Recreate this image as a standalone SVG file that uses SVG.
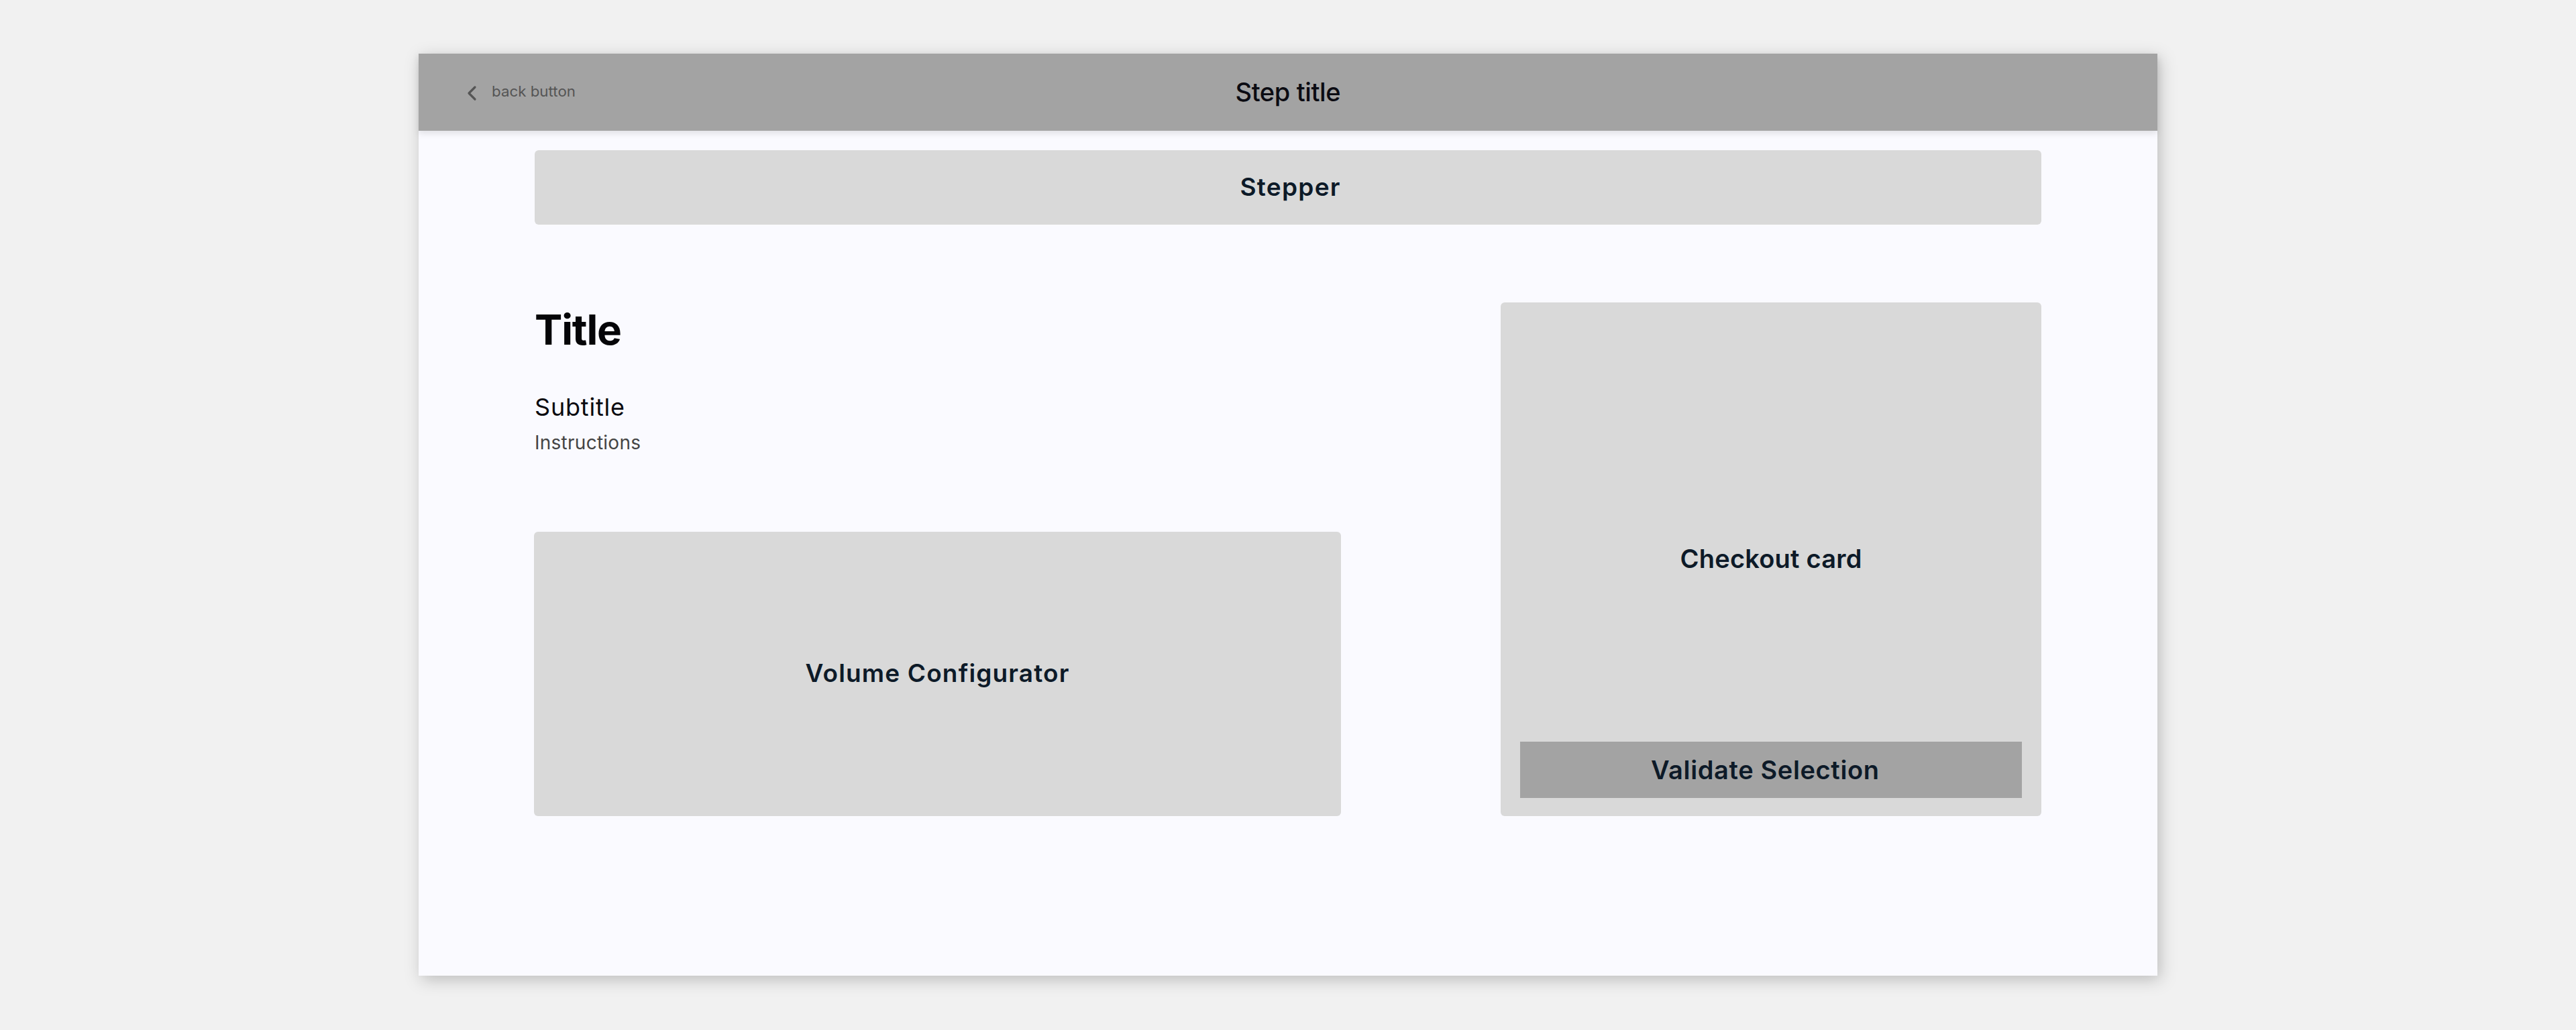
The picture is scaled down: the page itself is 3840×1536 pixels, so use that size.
<svg xmlns="http://www.w3.org/2000/svg" width="3840" height="1536" viewBox="0 0 3840 1536">
<defs>
<filter id="frameShadow" x="-5%" y="-5%" width="110%" height="115%">
<feDropShadow dx="4" dy="6" stdDeviation="12" flood-color="#000" flood-opacity="0.22"/>
</filter>
<filter id="headShadow" x="-2%" y="-20%" width="104%" height="160%">
<feDropShadow dx="0" dy="4" stdDeviation="5" flood-color="#000" flood-opacity="0.10"/>
</filter>
<style>
.box{fill:#d9d9d9}
.btn{fill:#a3a3a3}
.lbl{font-family:Inter,"Liberation Sans",sans-serif;font-weight:600;fill:#0d1a28;text-anchor:middle}
.body{font-family:Inter,"Liberation Sans",sans-serif}
</style>
</defs>
<rect width="3840" height="1536" fill="#f1f1f1"/>
<g id="frame">
<rect x="624" y="80" width="2592" height="1375" fill="#fafaff" filter="url(#frameShadow)"/>
</g>
<g id="header">
<rect x="624" y="80" width="2592" height="115" fill="#a3a3a3" filter="url(#headShadow)"/>
<polyline points="708,130 699,139 708,148" fill="none" stroke="#555" stroke-width="3.2" stroke-linecap="round" stroke-linejoin="round"/>
<text x="733" y="144" class="body" font-size="22" fill="#555" textLength="125" lengthAdjust="spacingAndGlyphs">back button</text>
<text x="1920" y="151" class="body" font-size="38" font-weight="500" fill="#0b0b12" text-anchor="middle" textLength="157" lengthAdjust="spacing">Step title</text>
</g>
<g id="stepper">
<rect class="box" x="797" y="224" width="2246" height="111" rx="6"/>
<text class="lbl" x="1923" y="292" font-size="37" textLength="149" lengthAdjust="spacing">Stepper</text>
</g>
<g id="title-block">
<text x="797" y="514" class="body" font-size="62" font-weight="700" fill="#050508" textLength="130" lengthAdjust="spacing">Title</text>
<text x="797" y="620" class="body" font-size="36" fill="#0a0a10" textLength="134" lengthAdjust="spacing">Subtitle</text>
<text x="797" y="670" class="body" font-size="28" fill="#444" textLength="158" lengthAdjust="spacing">Instructions</text>
</g>
<g id="volume-configurator">
<rect class="box" x="796" y="793" width="1203" height="424" rx="6"/>
<text class="lbl" x="1397" y="1017" font-size="37" textLength="393" lengthAdjust="spacing">Volume Configurator</text>
</g>
<g id="checkout-card">
<rect class="box" x="2237" y="451" width="806" height="766" rx="6"/>
<text class="lbl" x="2640" y="847" font-size="38" textLength="271" lengthAdjust="spacing">Checkout card</text>
</g>
<g id="validate-selection">
<rect class="btn" x="2266" y="1106" width="748" height="84"/>
<text class="lbl" x="2631" y="1162" font-size="38" textLength="340" lengthAdjust="spacing">Validate Selection</text>
</g>
<g id="connectors"/>
</svg>
